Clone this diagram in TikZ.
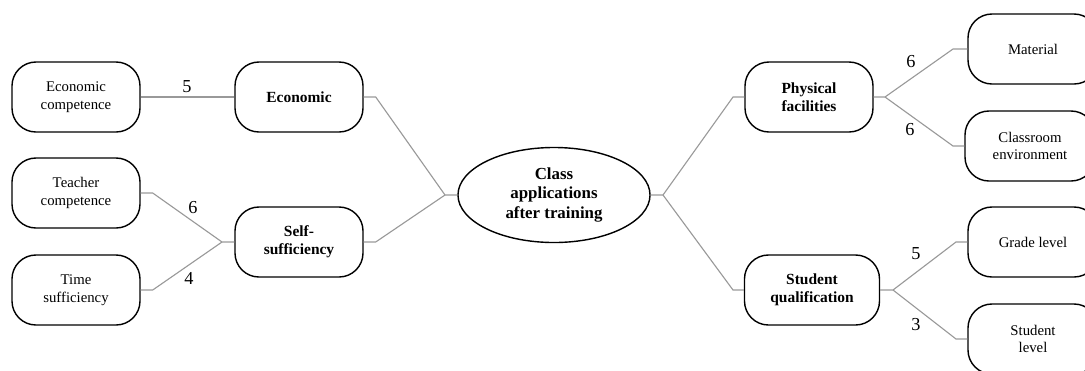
\documentclass[tikz,border=0pt]{standalone}
\usepackage{fontspec}
\setmainfont{Liberation Serif}
\usetikzlibrary{shapes.geometric}

\begin{document}
\begin{tikzpicture}[x=0.025cm,y=-0.025cm,auto,
  factor node/.style={draw=black,line width=1pt,rounded corners=0.6cm,minimum width=3.2cm,minimum height=1.75cm,inner sep=2pt,align=center,font=\fontsize{10.5}{12.5}\selectfont},
  main node/.style={factor node,font=\fontsize{11}{12.5}\selectfont\bfseries}]
\tikzstyle{link} = [draw=gray!80,line width=0.8pt]
\tikzstyle{weight} = [font=\fontsize{13}{13}\selectfont,inner sep=1pt]

\useasboundingbox (0,0) rectangle (1085,370);

% Centre
\node[ellipse,draw=black,line width=1pt,minimum width=4.8cm,minimum height=2.375cm,align=center,font=\fontsize{12}{14}\selectfont\bfseries] (core) at (554,195) {Class\\applications\\after training};

% Left branch
\node[main node] (econ) at (299,97) {Economic};
\node[main node] (self) at (299,242) {Self-\\sufficiency};
\node[factor node] (econcomp) at (76,97) {Economic\\competence};
\node[factor node] (teacher) at (76,193) {Teacher\\competence};
\node[factor node] (time) at (76,290) {Time\\sufficiency};

% Right branch
\node[main node] (phys) at (809,97) {Physical\\facilities};
\node[main node,minimum width=3.375cm] (qual) at (812,290) {Student\\qualification};
\node[factor node,minimum width=3.25cm] (material) at (1033,49) {Material};
\node[factor node,minimum width=3.25cm] (room) at (1030,146) {Classroom\\environment};
\node[factor node,minimum width=3.25cm] (grade) at (1033,242) {Grade level};
\node[factor node,minimum width=3.25cm] (stlevel) at (1033,339) {Student\\level};

% Junctions
\coordinate (jcore) at (445,195);
\coordinate (jcoreR) at (663,195);
\coordinate (jself) at (222,242);
\coordinate (jphys) at (885,97);
\coordinate (jqual) at (893,290);

% Draw connectors
\draw[link] (econ.east) -- ++(12,0) -- (jcore) -- (core.west);
\draw[link] (self.east) -- ++(12,0) -- (jcore);
\draw[link] (core.east) -- (jcoreR) -- (733,97) -- (phys.west);
\draw[link] (jcoreR) -- (733,290) -- (qual.west);
\draw[link] (econcomp.east) -- (econ.west);
\draw[link] (teacher.east) -- ++(12,0) -- (jself) -- (self.west);
\draw[link] (time.east) -- ++(12,0) -- (jself);
\draw[link] (phys.east) -- (jphys) -- (953,49) -- (material.west);
\draw[link] (jphys) -- (953,146) -- (room.west);
\draw[link] (qual.east) -- (jqual) -- (956,242) -- (grade.west);
\draw[link] (jqual) -- (956,339) -- (stlevel.west);

% Weights
\node[weight] (w1) at (187,87) {5};
\node[weight] (w2) at (193,208) {6};
\node[weight] (w3) at (189,278) {4};
\node[weight] (w4) at (911,62) {6};
\node[weight] (w5) at (910,130) {6};
\node[weight] (w6) at (916,254) {5};
\node[weight] (w7) at (916,325) {3};

\end{tikzpicture}
\end{document}
